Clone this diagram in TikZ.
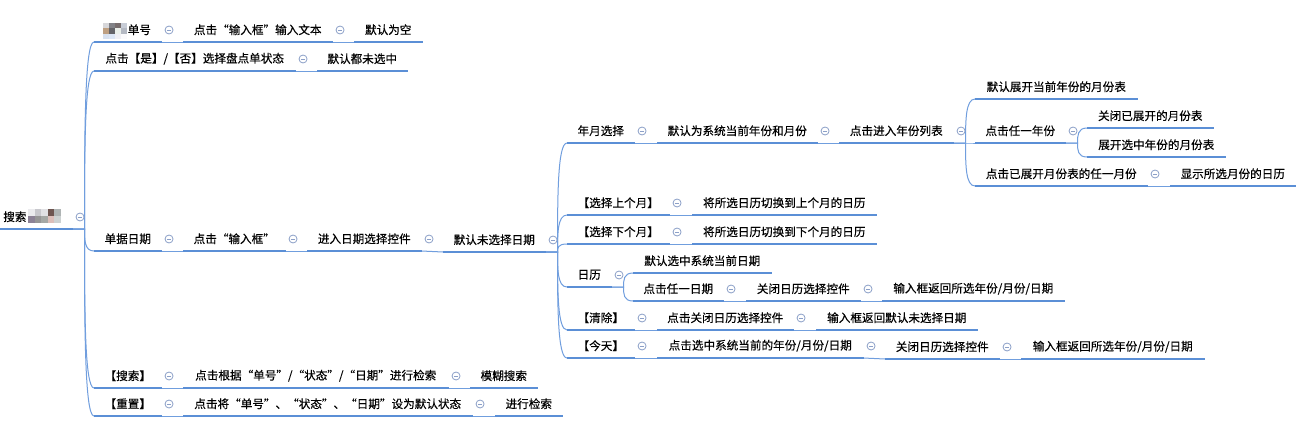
\documentclass[tikz,border=0pt]{standalone}
\usepackage{fontspec}
\setmainfont{Noto Sans CJK SC}[FakeBold=0.35]
\usetikzlibrary{calc}
\definecolor{ul}{RGB}{91,143,214}
\definecolor{cn}{RGB}{112,158,222}
\definecolor{fd}{RGB}{140,160,200}
\tikzset{
 topic/.style={anchor=south west, inner sep=0pt, minimum height=18pt, font=\fontsize{8.7pt}{10pt}\selectfont, text=black},
 uline/.style={draw=ul, line width=1.7pt},
 conn/.style={draw=cn, line width=0.75pt},
 foldc/.style={circle, draw=fd, fill=white, line width=0.6pt, minimum size=6pt, inner sep=0pt,
   path picture={\draw[fd, line width=0.6pt] ([xshift=-1.6pt]path picture bounding box.center) -- ([xshift=1.6pt]path picture bounding box.center);}},
}
\newcommand\tp[5]{\node[topic, minimum width={(#3-#2)*0.75pt}] (#1) at (#2,#4) {#5};}
\newcommand\fold[1]{\node[foldc] (#1-f) at ($(#1.south east)+(7.5,-12)$) {};}
\newcommand\lk[2]{\draw[conn] (#1.south east) -- (#2.south west);}
\newcommand\br[2]{\draw[conn] let \p1=(#1.south east), \p2=(#2.south west) in (\p1) -- (\x1+9pt,\y1) .. controls (\x1+9pt,{0.5*\y1+0.5*\y2}) and (\x1+9pt,\y2) .. (\p2);}
\begin{document}
\begin{tikzpicture}[x=0.75pt,y=-0.75pt]
\useasboundingbox (0,0) rectangle (1301,422);
\fill[white] (0,0) rectangle (1301,422);
% root
\node[topic, minimum width=54pt, text width=49.5pt, align=left, inner xsep=2.25pt] (root) at (0,229) {搜索};
% level 1
\tp{a1}{94}{161}{42}{\phantom{单单}单号}
\tp{a2}{183}{332}{42}{点击“输入框”输入文本}
\tp{a3}{354}{422}{42}{默认为空}
\tp{b1}{94}{295}{71}{点击【是】/【否】选择盘点单状态}
\tp{b2}{317}{407}{71}{默认都未选中}
\tp{c1}{94}{161}{251}{单据日期}
\tp{c2}{183}{285}{251}{点击“输入框”}
\tp{c3}{307}{421}{251}{进入日期选择控件}
\tp{c4}{443}{545}{252}{默认未选择日期}
\tp{d1}{94}{161}{388}{【搜索】}
\tp{d2}{183}{448}{388}{点击根据“单号”/“状态”/“日期”进行检索}
\tp{d3}{470}{537}{388}{模糊搜索}
\tp{e1}{94}{161}{416}{【重置】}
\tp{e2}{183}{472}{416}{点击将“单号”、“状态”、“日期”设为默认状态}
\tp{e3}{495}{562}{416}{进行检索}
% date branch
\tp{f1}{567}{634}{143}{年月选择}
\tp{f2}{657}{817}{143}{默认为系统当前年份和月份}
\tp{f3}{839}{953}{143}{点击进入年份列表}
\tp{g1}{975}{1137}{99}{默认展开当前年份的月份表}
\tp{g2}{975}{1065}{143}{点击任一年份}
\tp{h1}{1087}{1213}{128}{关闭已展开的月份表}
\tp{h2}{1087}{1225}{157}{展开选中年份的月份表}
\tp{g3}{975}{1147}{186}{点击已展开月份表的任一月份}
\tp{g4}{1170}{1295}{186}{显示所选月份的日历}
\tp{i1}{567}{669}{215}{【选择上个月】}
\tp{i2}{692}{876}{215}{将所选日历切换到上个月的日历}
\tp{j1}{567}{669}{244}{【选择下个月】}
\tp{j2}{692}{876}{244}{将所选日历切换到下个月的日历}
\tp{k0}{567}{611}{287}{日历}
\tp{k1}{633}{771}{273}{默认选中系统当前日期}
\tp{k2}{633}{723}{301}{点击任一日期}
\tp{k3}{746}{860}{301}{关闭日历选择控件}
\tp{k4}{882}{1064}{301}{输入框返回所选年份/月份/日期}
\tp{l1}{567}{634}{330}{【清除】}
\tp{l2}{657}{793}{330}{点击关闭日历选择控件}
\tp{l3}{816}{977}{330}{输入框返回默认未选择日期}
\tp{m1}{567}{634}{358}{【今天】}
\tp{m2}{657}{863}{358}{点击选中系统当前的年份/月份/日期}
\tp{m3}{885}{999}{359}{关闭日历选择控件}
\tp{m4}{1021}{1204}{359}{输入框返回所选年份/月份/日期}
% mosaics (blurred text)
\foreach \c [count=\i from 0] in {{235,235,238},{200,200,205},{225,225,228},{110,85,80},{175,180,180}}
  {\definecolor{mz}{RGB}{\c}\fill[mz] (28+6.6*\i,209) rectangle ++(6.6,7);}
\foreach \c [count=\i from 0] in {{140,130,150},{150,150,150},{165,168,165},{220,190,185},{205,210,210}}
  {\definecolor{mz}{RGB}{\c}\fill[mz] (28+6.6*\i,216) rectangle ++(6.6,7);}
\foreach \c [count=\i from 0] in {{215,215,218},{130,130,135},{120,110,110},{200,205,215}}
  {\definecolor{mz}{RGB}{\c}\fill[mz] (103+6*\i,23) rectangle ++(6,5.3);}
\foreach \c [count=\i from 0] in {{190,160,130},{100,100,105},{235,240,235},{180,185,195}}
  {\definecolor{mz}{RGB}{\c}\fill[mz] (103+6*\i,28.3) rectangle ++(6,5.3);}
\foreach \c [count=\i from 0] in {{215,225,240},{220,230,245},{240,240,245},{250,250,252}}
  {\definecolor{mz}{RGB}{\c}\fill[mz] (103+6*\i,33.6) rectangle ++(6,5.3);}
% connectors
\draw[conn] (root.south east) -- ++(12,0);
\foreach \c in {a1,b1,c1,d1,e1} {\br{root}{\c}}
\foreach \c in {f1,i1,j1,k0,l1,m1} {\br{c4}{\c}}
\foreach \c in {g1,g2,g3} {\br{f3}{\c}}
\foreach \c in {h1,h2} {\br{g2}{\c}}
\foreach \c in {k1,k2} {\br{k0}{\c}}
\lk{a1}{a2}\lk{a2}{a3}\lk{b1}{b2}
\lk{c1}{c2}\lk{c2}{c3}\lk{c3}{c4}
\lk{d1}{d2}\lk{d2}{d3}\lk{e1}{e2}\lk{e2}{e3}
\lk{f1}{f2}\lk{f2}{f3}\lk{g3}{g4}
\lk{i1}{i2}\lk{j1}{j2}
\lk{k2}{k3}\lk{k3}{k4}
\lk{l1}{l2}\lk{l2}{l3}
\lk{m1}{m2}\lk{m2}{m3}\lk{m3}{m4}
% underlines
\foreach \n in {root,a1,a2,a3,b1,b2,c1,c2,c3,c4,d1,d2,d3,e1,e2,e3,f1,f2,f3,g1,g2,g3,g4,h1,h2,i1,i2,j1,j2,k0,k1,k2,k3,k4,l1,l2,l3,m1,m2,m3,m4}
  {\draw[uline] (\n.south west) -- (\n.south east);}
% fold markers
\foreach \n in {root,a1,a2,b1,c1,c2,c3,c4,d1,d2,e1,e2,f1,f2,f3,g2,g3,i1,j1,k0,k2,k3,l1,l2,m1,m2,m3}
  {\fold{\n}}
\end{tikzpicture}
\end{document}
